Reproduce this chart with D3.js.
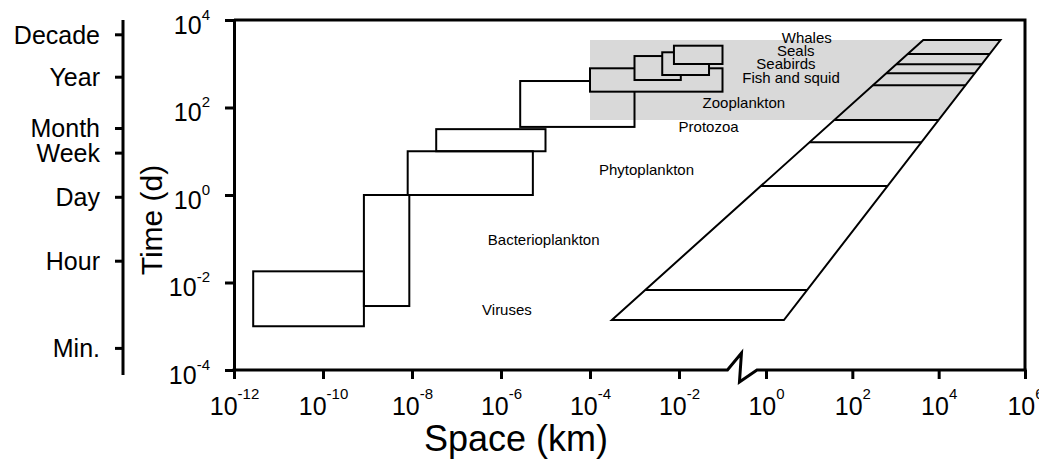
<!DOCTYPE html>
<html>
<head>
<meta charset="utf-8">
<script src="https://cdn.jsdelivr.net/npm/d3@7"></script>
<style>
  body { margin: 0; background: #fff; }
  svg text { font-family: 'Liberation Sans', Arial, sans-serif; fill: #000; }
</style>
</head>
<body>
<div class="svg-container"></div>
<script>
// organism boxes: space in km, time in days
const groups = ['Viruses', 'Bacterioplankton', 'Phytoplankton', 'Protozoa', 'Zooplankton',
  'Fish and squid', 'Seabirds', 'Seals', 'Whales']
const spaceMin = [2.7e-12, 8.3e-10, 8e-9, 3.5e-8, 2.7e-6, 1e-4, 1e-3, 4.2e-3, 7.7e-3]
const spaceMax = [8.3e-10, 8.7e-9, 5.2e-6, 1e-5, 1e-3, 0.1, 0.011, 0.049, 0.1]
const timeMin = [1e-3, 2.9e-3, 1, 10, 36, 230, 425, 553, 987]
const timeMax = [0.018, 1, 10, 32, 403, 787, 1500, 1828, 2585]

// where each name sits (km, days)
const labelSpace = [1.36e-6, 9.1e-6, 1.86e-3, 0.048, 0.31, 3.8, 2.9, 4.9, 8.8]
const labelTime = [1.81e-3, 0.072, 2.94, 27.5, 95, 354, 759, 1500, 2980]

// physical processes envelope: bottom-left, bottom-right, top-left, top-right (km)
const envSpace = [3.1e-4, 2.6, 4400, 2.7e5]
const envTime = [1.39e-3, 3490]
const envLevels = [1671, 971, 605, 321, 52, 16, 1.6, 6.7e-3]

// shaded band: left edge (km), bottom and top (days)
const bandSpace = 1e-4
const bandTime = [52, 3490]

const spaceTicks = [1e-12, 1e-10, 1e-8, 1e-6, 1e-4, 1e-2, 1, 1e2, 1e4, 1e6]
const timeTicks = [1e-4, 1e-2, 1, 1e2, 1e4]
const periodNames = ['Decade', 'Year', 'Month', 'Week', 'Day', 'Hour', 'Min.']
const periodTimes = [4710, 506, 34, 9.3, 0.91, 0.0315, 3.2e-4]

// axis break (km)
const breakFrom = 0.13
const breakTo = 0.62

const width = 1039
const height = 461
const margin = { top: 20, right: 14, bottom: 91, left: 234 }
const breakLeft = 679
const breakRight = 766
const periodAxisX = 123
const grey = '#d9d9d9'

const x = d3
  .scaleLog()
  .domain([1e-12, 1e-2, 1, 1e6])
  .range([margin.left, breakLeft, breakRight, width - margin.right])

const y = d3
  .scaleLog()
  .domain([1e-4, 1e4])
  .range([height - margin.bottom, margin.top])

const svg = d3
  .select('.svg-container')
  .append('svg')
  .attr('width', width)
  .attr('height', height)

// x position of the envelope edge at time t
function edge(t, side) {
  const yb = y(envTime[0])
  const yt = y(envTime[1])
  const f = (y(t) - yb) / (yt - yb)
  const x0 = x(side == 'left' ? envSpace[0] : envSpace[1])
  const x1 = x(side == 'left' ? envSpace[2] : envSpace[3])
  return x0 + f * (x1 - x0)
}

svg
  .append('polygon')
  .attr('points', [
    [x(bandSpace), y(bandTime[1])],
    [edge(bandTime[1], 'right'), y(bandTime[1])],
    [edge(bandTime[0], 'right'), y(bandTime[0])],
    [x(bandSpace), y(bandTime[0])]
  ].join(' '))
  .attr('fill', grey)

svg
  .append('polygon')
  .attr('points', [
    [x(envSpace[0]), y(envTime[0])],
    [x(envSpace[1]), y(envTime[0])],
    [x(envSpace[3]), y(envTime[1])],
    [x(envSpace[2]), y(envTime[1])]
  ].join(' '))
  .attr('fill', 'none')
  .attr('stroke', '#000')
  .attr('stroke-width', 2)
  .attr('stroke-linejoin', 'miter')

svg
  .selectAll('.level')
  .data(envLevels)
  .enter()
  .append('line')
  .attr('class', 'level')
  .attr('x1', (d) => edge(d, 'left'))
  .attr('x2', (d) => edge(d, 'right'))
  .attr('y1', (d) => y(d))
  .attr('y2', (d) => y(d))
  .attr('stroke', '#000')
  .attr('stroke-width', 2)

svg
  .selectAll('.box')
  .data(groups)
  .enter()
  .append('rect')
  .attr('class', 'box')
  .attr('x', (d, i) => x(spaceMin[i]))
  .attr('y', (d, i) => y(timeMax[i]))
  .attr('width', (d, i) => x(spaceMax[i]) - x(spaceMin[i]))
  .attr('height', (d, i) => y(timeMin[i]) - y(timeMax[i]))
  .attr('fill', (d, i) => (i >= 5 ? grey : 'none'))
  .attr('stroke', '#000')
  .attr('stroke-width', 2)

svg
  .selectAll('.name')
  .data(groups)
  .enter()
  .append('text')
  .attr('class', 'name')
  .attr('x', (d, i) => x(labelSpace[i]))
  .attr('y', (d, i) => y(labelTime[i]))
  .attr('text-anchor', 'middle')
  .style('font-size', '15px')
  .text((d) => d)

// bottom axis, its line drawn separately because of the break
const xAxis = d3.axisBottom(x).tickValues(spaceTicks).tickSize(9).tickFormat('')
const gx = svg
  .append('g')
  .attr('transform', 'translate(0,' + y.range()[0] + ')')
  .call(xAxis)
gx.select('.domain').remove()
gx.selectAll('.tick line').attr('stroke-width', 3)
gx.selectAll('.tick text').each(function (d) {
  const t = d3.select(this).text(null).attr('y', 45).attr('dy', null).style('font-size', '25px')
  t.append('tspan').text('10')
  t.append('tspan').attr('dy', -16).style('font-size', '15px').text(Math.round(Math.log10(d)))
})

const y0 = y.range()[0]
const b0 = x(breakFrom)
svg
  .append('path')
  .attr('d', d3.line()([
    [x(1e-12) - 1.5, y0],
    [b0, y0],
    [b0 + 14, y0 - 17],
    [b0 + 12, y0 + 12],
    [x(breakTo), y0],
    [x(1e6) + 1.5, y0]
  ]))
  .attr('fill', 'none')
  .attr('stroke', '#000')
  .attr('stroke-width', 3)

// top and right frame
svg
  .append('path')
  .attr('d', 'M' + x(1e-12) + ',' + y(1e4) + 'H' + x(1e6) + 'V' + y(1e-4))
  .attr('fill', 'none')
  .attr('stroke', '#000')
  .attr('stroke-width', 3)

const yAxis = d3.axisLeft(y).tickValues(timeTicks).tickSize(9).tickSizeOuter(0).tickFormat('')
const gy = svg
  .append('g')
  .attr('transform', 'translate(' + x(1e-12) + ',0)')
  .call(yAxis)
gy.select('.domain').attr('stroke-width', 3)
gy.selectAll('.tick line').attr('stroke-width', 3)
gy.selectAll('.tick text').each(function (d) {
  const t = d3.select(this).text(null).attr('x', -24).attr('dy', 13).style('font-size', '25px')
  t.append('tspan').text('10')
  t.append('tspan').attr('dy', -14).style('font-size', '15px').text(Math.round(Math.log10(d)))
})

const periodAxis = d3
  .axisLeft(y)
  .tickValues(periodTimes)
  .tickSize(8)
  .tickSizeOuter(0)
  .tickPadding(15)
  .tickFormat((d, i) => periodNames[i])
const gp = svg
  .append('g')
  .attr('transform', 'translate(' + periodAxisX + ',0)')
  .call(periodAxis)
gp.select('.domain').attr('stroke-width', 3).attr('d', 'M0,' + y(1e4) + 'V' + (y(1e-4) + 5))
gp.selectAll('.tick line').attr('stroke-width', 3)
gp.selectAll('.tick text').style('font-size', '25px').attr('dy', '0.35em')

svg
  .append('text')
  .attr('transform', 'translate(162,220) rotate(-90)')
  .attr('text-anchor', 'middle')
  .style('font-size', '30px')
  .text('Time (d)')

svg
  .append('text')
  .attr('x', 516)
  .attr('y', 451)
  .attr('text-anchor', 'middle')
  .style('font-size', '36px')
  .text('Space (km)')
</script>
</body>
</html>
